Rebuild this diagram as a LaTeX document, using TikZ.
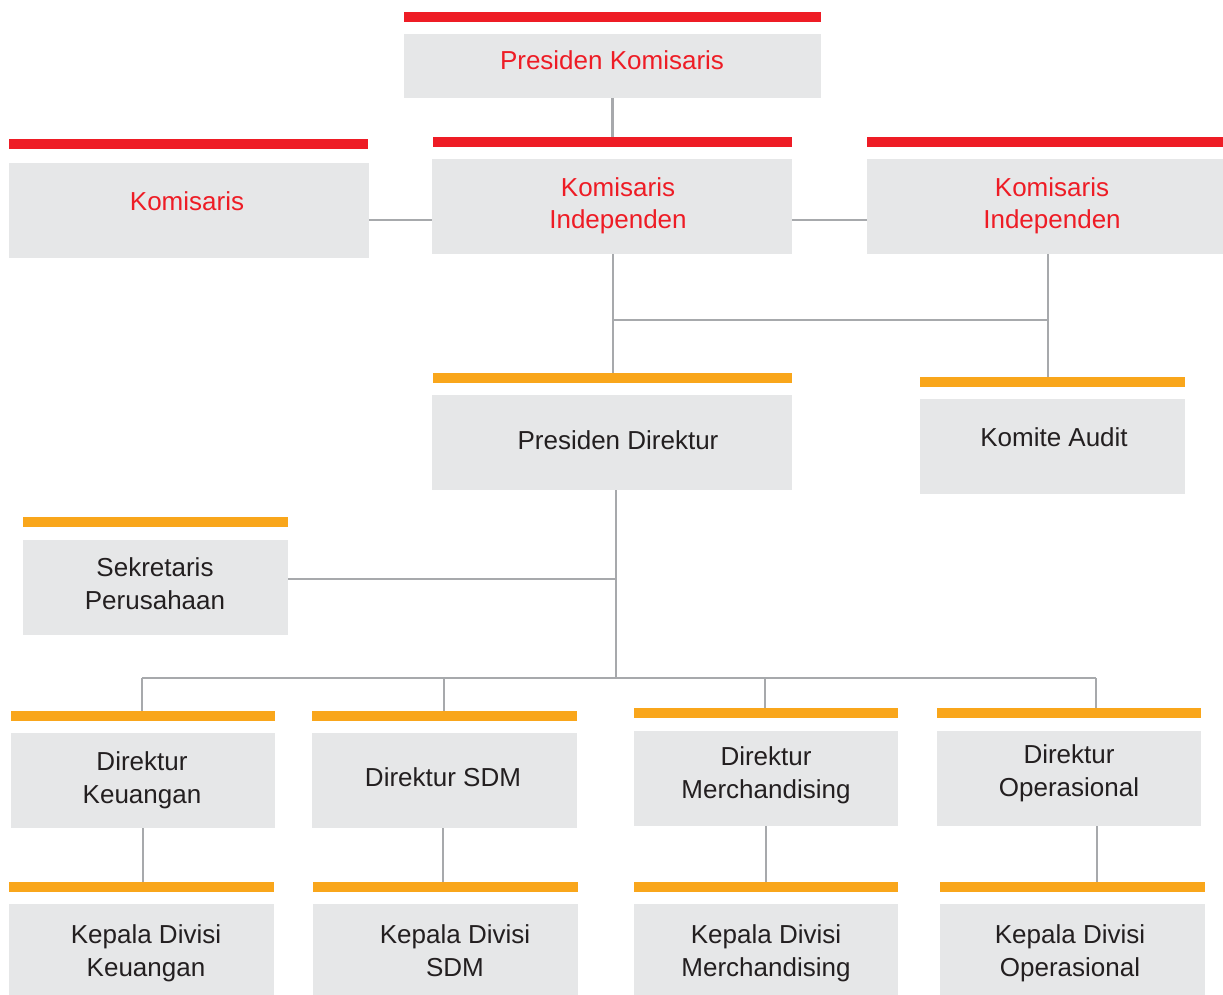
\documentclass[tikz,border=0pt]{standalone}
\usepackage{fontspec}
\setmainfont{Liberation Sans}
\definecolor{kred}{HTML}{EE1C25}
\definecolor{korange}{HTML}{F9A61B}
\definecolor{kbox}{HTML}{E6E7E8}
\definecolor{kline}{HTML}{A7A9AC}
\definecolor{ktext}{HTML}{231F20}
\begin{document}
\begin{tikzpicture}[x=1pt,y=-1pt,
  bar/.style={rectangle,inner sep=0,outer sep=0,minimum height=10,anchor=north west},
  redbar/.style={bar,fill=kred},
  orbar/.style={bar,fill=korange},
  box/.style={rectangle,inner sep=0,outer sep=0,fill=kbox,anchor=north west},
  lbl/.style={anchor=base,align=center,inner sep=0,font=\fontsize{26}{32.5}\selectfont},
  redlbl/.style={lbl,text=kred},
  blklbl/.style={lbl,text=ktext},
  conn/.style={draw=kline,line width=2.5pt}]
\useasboundingbox (0,0) rectangle (1223,995);
% top level
\node[redbar,minimum width=417] (bPK) at (404,12) {};
\node[box,minimum width=417,minimum height=64] (PK) at (404,34) {};
\node[redlbl] (tPK) at (612,70) {Presiden Komisaris};
\node[redbar,minimum width=359] (bK) at (9,139) {};
\node[box,minimum width=360,minimum height=95] (K) at (9,163) {};
\node[redlbl] (tK) at (187,211) {Komisaris};
\node[redbar,minimum width=359] (bKI) at (433,137) {};
\node[box,minimum width=360,minimum height=95] (KI) at (432,159) {};
\node[redlbl] (tKI) at (618,229) {Komisaris\\Independen};
\node[redbar,minimum width=356] (bKR) at (867,137) {};
\node[box,minimum width=356,minimum height=95] (KR) at (867,159) {};
\node[redlbl] (tKR) at (1052,229) {Komisaris\\Independen};
% directors
\node[orbar,minimum width=359] (bPD) at (433,373) {};
\node[box,minimum width=360,minimum height=95] (PD) at (432,395) {};
\node[blklbl] (tPD) at (618,449) {Presiden Direktur};
\node[orbar,minimum width=265] (bKA) at (920,377) {};
\node[box,minimum width=265,minimum height=95] (KA) at (920,399) {};
\node[blklbl] (tKA) at (1054,446) {Komite Audit};
\node[orbar,minimum width=265] (bSP) at (23,517) {};
\node[box,minimum width=265,minimum height=95] (SP) at (23,540) {};
\node[blklbl] (tSP) at (155,609) {Sekretaris\\Perusahaan};
\node[orbar,minimum width=264] (bD1) at (11,711) {};
\node[box,minimum width=264,minimum height=95] (D1) at (11,733) {};
\node[blklbl] (tD1) at (142,803) {Direktur\\Keuangan};
\node[orbar,minimum width=265] (bD2) at (312,711) {};
\node[box,minimum width=265,minimum height=95] (D2) at (312,733) {};
\node[blklbl] (tD2) at (443,786) {Direktur SDM};
\node[orbar,minimum width=264] (bD3) at (634,708) {};
\node[box,minimum width=264,minimum height=95] (D3) at (634,731) {};
\node[blklbl] (tD3) at (766,798) {Direktur\\Merchandising};
\node[orbar,minimum width=264] (bD4) at (937,708) {};
\node[box,minimum width=264,minimum height=95] (D4) at (937,731) {};
\node[blklbl] (tD4) at (1069,796) {Direktur\\Operasional};
\node[orbar,minimum width=265] (bH1) at (9,882) {};
\node[box,minimum width=265,minimum height=91] (H1) at (9,904) {};
\node[blklbl] (tH1) at (146,976) {Kepala Divisi\\Keuangan};
\node[orbar,minimum width=265] (bH2) at (313,882) {};
\node[box,minimum width=265,minimum height=91] (H2) at (313,904) {};
\node[blklbl] (tH2) at (455,976) {Kepala Divisi\\SDM};
\node[orbar,minimum width=264] (bH3) at (634,882) {};
\node[box,minimum width=264,minimum height=91] (H3) at (634,904) {};
\node[blklbl] (tH3) at (766,976) {Kepala Divisi\\Merchandising};
\node[orbar,minimum width=265] (bH4) at (940,882) {};
\node[box,minimum width=265,minimum height=91] (H4) at (940,904) {};
\node[blklbl] (tH4) at (1070,976) {Kepala Divisi\\Operasional};
% junctions
\coordinate (j0) at (0,220);
\coordinate (jA) at (613,320);
\coordinate (jB) at (1048,320);
\coordinate (jC) at (616,579);
\coordinate (jD) at (616,678);
\coordinate (jE) at (142,678);
\coordinate (jG) at (444,678);
\coordinate (jH) at (765,678);
\coordinate (jF) at (1096,678);
% connectors
\draw[conn] (PK.south) -- (bKI.north);
\draw[conn] (K.east |- j0) -- (KI.west |- j0);
\draw[conn] (KI.east |- j0) -- (KR.west |- j0);
\draw[conn] (jA |- KI.south) -- (jA |- bPD.north);
\draw[conn] (jA) -- (jB);
\draw[conn] (jB |- KR.south) -- (jB |- bKA.north);
\draw[conn] (jC |- PD.south) -- (jD);
\draw[conn] (SP.east |- jC) -- (jC);
\draw[conn] (jE) -- (jF);
\draw[conn] (jE) -- (jE |- bD1.north);
\draw[conn] (jG) -- (jG |- bD2.north);
\draw[conn] (jH) -- (jH |- bD3.north);
\draw[conn] (jF) -- (jF |- bD4.north);
\draw[conn] ([xshift=1]jE |- D1.south) -- ([xshift=1]jE |- bH1.north);
\draw[conn] ([xshift=-1]jG |- D2.south) -- ([xshift=-1]jG |- bH2.north);
\draw[conn] ([xshift=1]jH |- D3.south) -- ([xshift=1]jH |- bH3.north);
\draw[conn] ([xshift=1]jF |- D4.south) -- ([xshift=1]jF |- bH4.north);
\end{tikzpicture}
\end{document}
